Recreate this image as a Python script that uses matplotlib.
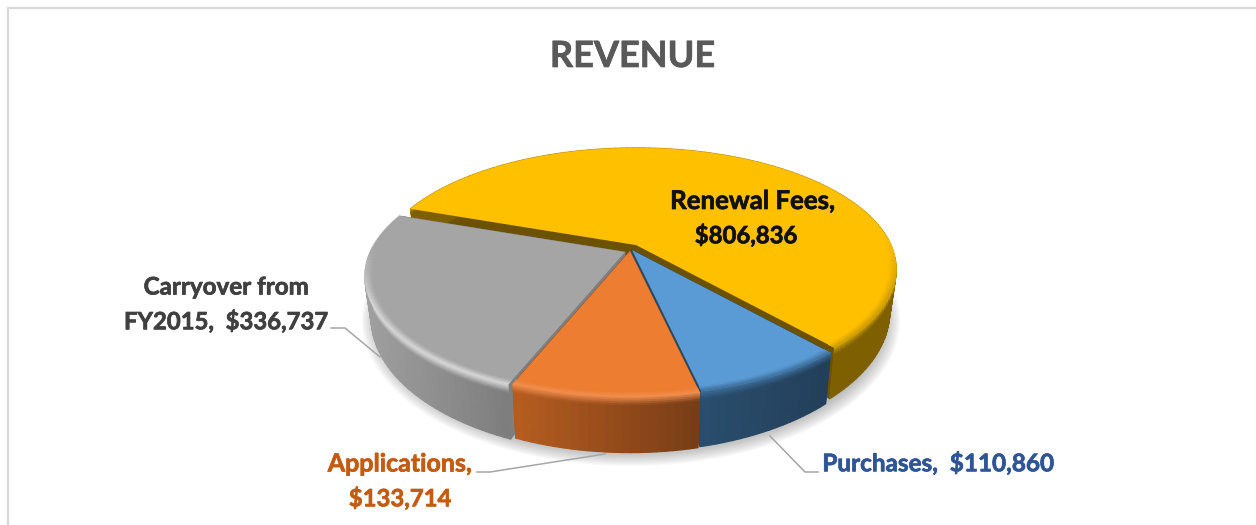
import numpy as np
import matplotlib
matplotlib.use("Agg")
import matplotlib.pyplot as plt
import matplotlib.patheffects as pe
from matplotlib.collections import PolyCollection
from matplotlib.colors import to_rgb

# ---- data -------------------------------------------------------------
categories = ["Renewal Fees", "Purchases", "Applications", "Carryover from FY2015"]
values = [806836, 110860, 133714, 336737]
title = "REVENUE"

top_colors = ["#FFC000", "#5B9BD5", "#ED7D31", "#A5A5A5"]
rim_colors = ["#C99A00", "#3D6E99", "#F39050", "#DCDCDC"]
side_left = ["#7F6000", "#2A4E6E", "#B85E20", "#A0A0A0"]
side_right = ["#7F6000", "#233F5A", "#783D17", "#7E7E7E"]
cut_colors = ["#6B5100", "#264A67", "#8A4A1C", "#7F7F7F"]
slice_offsets = [(2, -5), (-2, 0), (-4, 1), (-9, 2)]
draw_order = [0, 3, 1, 2]

# ---- layout -----------------------------------------------------------
W, H = 1256, 525
CX, CY = 634, 250
A, B, K = 255, 116.6, 0.20
D0 = 40
START = 160.7

fig = plt.figure(figsize=(W / 100, H / 100), dpi=100)
ax = fig.add_axes([0, 0, 1, 1])
ax.set_xlim(0, W)
ax.set_ylim(H, 0)
ax.axis("off")


def project(r, th, off=(0, 0), t=0.0):
    """Perspective projection of a polar point on the pie; t = depth fraction."""
    th = np.radians(th)
    c, s = r * np.cos(th), r * np.sin(th)
    w = 1 + K * s
    x = A * c / w
    y = -B * s / w
    depth = D0 / w ** 1.5
    return (CX + off[0] + x * (1 - 0.025 * t), CY + off[1] + y + depth * t)


def mix(a, b, f):
    a, b = np.array(to_rgb(a)), np.array(to_rgb(b))
    return tuple(a + (b - a) * f)


def front(th):
    """0 on the back of the rim, 1 on its front."""
    return float(np.clip(-np.sin(np.radians(th)) * 2.2 + 0.1, 0, 1))


fractions = np.array(values, dtype=float) / np.sum(values)
ends = START - np.cumsum(fractions) * 360
starts = np.r_[START, ends[:-1]]

# ---- soft shadow ------------------------------------------------------
ths = np.linspace(0, 360, 240)
xb, yb = project(1.0, ths, (0, 0), 1.0)
for grow in np.linspace(16, 0, 14):
    fx = 1 + grow / 265
    px = CX - 3 + (xb - CX) * fx
    py = CY + 22 + (yb - CY - 22) * (1 + grow / 200)
    ax.fill(px, py, color="#606060", alpha=0.035, lw=0, zorder=1)

# ---- slices -----------------------------------------------------------
z = 2
for i in draw_order:
    a0, a1 = starts[i], ends[i]
    off = slice_offsets[i]
    angs = np.linspace(a0, a1, max(int(abs(a1 - a0) / 1.5), 8))

    # cut faces
    for ang in (a0, a1):
        x0, y0 = project(0.0, ang, off, 0.0)
        x1, y1 = project(1.0, ang, off, 0.0)
        x2, y2 = project(1.0, ang, off, 1.0)
        x3, y3 = project(0.0, ang, off, 1.0)
        ax.fill([x0, x1, x2, x3], [y0, y1, y2, y3], color=cut_colors[i], lw=0.5, zorder=z)
    z += 1

    # outer side with gradient along the rim and bevel near the top
    ts = np.r_[np.linspace(0, 0.16, 6), np.linspace(0.3, 1, 4)]
    polys, cols = [], []
    xs_all = project(1.0, angs, off, 0.0)[0]
    xmin, xmax = xs_all.min(), xs_all.max()
    for j in range(len(angs) - 1):
        for m in range(len(ts) - 1):
            t0, t1 = ts[m], ts[m + 1]
            p = [project(1.0, angs[j], off, t0), project(1.0, angs[j + 1], off, t0),
                 project(1.0, angs[j + 1], off, t1), project(1.0, angs[j], off, t1)]
            polys.append(p)
            fx = (p[0][0] - xmin) / max(xmax - xmin, 1)
            base = mix(side_left[i], side_right[i], fx)
            tm = 0.5 * (t0 + t1)
            cols.append(mix(rim_colors[i], base, min(tm / 0.16, 1)))
    ax.add_collection(PolyCollection(polys, facecolors=cols, edgecolors="face", linewidths=0.8, zorder=z))
    z += 1

    # top face
    px, py = project(1.0, angs, off, 0.0)
    x0, y0 = project(0.0, a0, off, 0.0)
    ax.fill(np.r_[x0, px], np.r_[y0, py], color=top_colors[i], lw=0, zorder=z)
    z += 1

    # bevel on the rim of the top face, only where the rim faces the viewer
    rs = np.linspace(0.972, 1.0, 5)
    polys, cols = [], []
    for j in range(len(angs) - 1):
        amid = 0.5 * (angs[j] + angs[j + 1])
        fr = front(amid)
        if fr <= 0:
            continue
        for m in range(len(rs) - 1):
            p = [project(rs[m], angs[j], off), project(rs[m], angs[j + 1], off),
                 project(rs[m + 1], angs[j + 1], off), project(rs[m + 1], angs[j], off)]
            polys.append(p)
            cols.append(mix(top_colors[i], rim_colors[i], fr * (m + 0.5) / (len(rs) - 1)))
    ax.add_collection(PolyCollection(polys, facecolors=cols, edgecolors="face", linewidths=0.3, zorder=z))
    z += 1

TZ = 100
# ---- frame ------------------------------------------------------------
ax.plot([W, 7.5, 7.5], [8, 8, H], color="#D9D9D9", lw=1.6, zorder=TZ, solid_joinstyle="miter")

# ---- leader lines -----------------------------------------------------
leader = "#A6A6A6"
ax.plot([331, 345, 380], [328, 328, 357], color=leader, lw=1.1, zorder=TZ)
ax.plot([477, 490, 605], [472, 472, 454], color=leader, lw=1.1, zorder=TZ)
ax.plot([770, 805, 818], [436, 472, 472], color=leader, lw=1.1, zorder=TZ)


# ---- text -------------------------------------------------------------
def label(x, y, s, size, color):
    t = ax.text(x, y, s, fontsize=size, color=color, family="Lato", weight="bold",
                ha="center", va="center", zorder=TZ + 1)
    t.set_path_effects([pe.withStroke(linewidth=0.5, foreground=color)])


label(632.5, 56.5, title, 26, "#595959")
label(753, 201, "Renewal Fees,", 18.6, "#111111")
label(746, 235, f"${values[0]:,}", 17.2, "#111111")
label(226, 287, "Carryover from", 17.4, "#404040")
label(226, 321, f"FY2015,  ${values[3]:,}", 17.2, "#404040")
label(400, 464, "Applications,", 18, "#C55A11")
label(400, 498, f"${values[2]:,}", 17.2, "#C55A11")
label(938, 463, f"Purchases,  ${values[1]:,}", 17.5, "#2F5597")

fig.savefig("out.png", dpi=100, facecolor="white")
